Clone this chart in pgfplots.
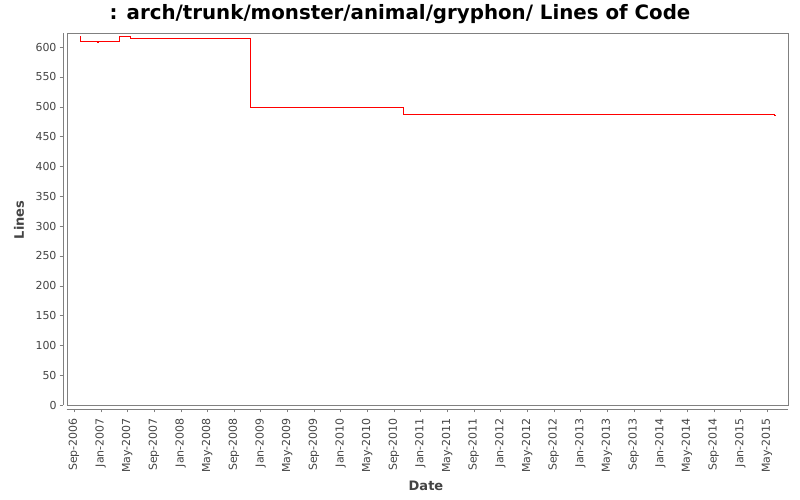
\documentclass[border=0pt]{standalone}
\usepackage{pgfplots}
\pgfplotsset{compat=1.18}
\usepackage{fontspec}
\setmainfont{DejaVu Sans}
\definecolor{axisgray}{RGB}{128,128,128}
\definecolor{labelgray}{RGB}{68,68,68}
\definecolor{locred}{RGB}{255,0,0}
\begin{document}
\begin{tikzpicture}[x=1pt,y=1pt]
\path[use as bounding box] (0,0) rectangle (800,-500);
\begin{axis}[
    at={(66.7pt,-405pt)}, anchor=south west,
    scale only axis, width=721.3pt, height=371.7pt,
    xmin=-1.096, xmax=107.16, ymin=0, ymax=623,
    axis line style={axisgray},
    tick align=outside, major tick length=3pt,
    xtick pos=bottom, ytick pos=left,
    xtick style={axisgray, yshift=-4.3pt},
    ytick style={axisgray, xshift=-4pt},
    xtick={0,4,...,104},
    xticklabels={Sep-2006,Jan-2007,May-2007,Sep-2007,Jan-2008,May-2008,Sep-2008,Jan-2009,May-2009,Sep-2009,Jan-2010,May-2010,Sep-2010,Jan-2011,May-2011,Sep-2011,Jan-2012,May-2012,Sep-2012,Jan-2013,May-2013,Sep-2013,Jan-2014,May-2014,Sep-2014,Jan-2015,May-2015},
    ytick={0,50,...,600},
    xticklabel style={rotate=90, anchor=east, inner sep=0pt, text=labelgray, font=\fontsize{11}{13}\selectfont},
    yticklabel style={anchor=east, inner sep=0pt, text=labelgray, font=\fontsize{11}{13}\selectfont},
    xticklabel shift=10pt, yticklabel shift=7pt,
    /pgf/number format/assume math mode=true,
    clip=false,
]
\addplot[black, const plot, line width=1pt] coordinates {
    (0.95,617) (0.96,610) (3.55,608) (3.7,610) (6.8,617) (8.45,615)
    (26.46,498) (49.42,487) (105.16,486) (105.17,486)
};
\addplot[locred, const plot, line width=1pt] coordinates {
    (0.95,617) (0.96,610) (3.55,608) (3.7,610) (6.8,617) (8.45,615)
    (26.46,498) (49.42,487) (105.16,486) (105.17,486)
};
\end{axis}
\draw[axisgray] (62.7,-33.3) -- (62.7,-405);
\draw[axisgray] (66.7,-409.3) -- (788,-409.3);
\node[font=\fontsize{19.8}{23}\selectfont\bfseries] at (400,-14) {: arch/trunk/monster/animal/gryphon/ Lines of Code};
\node[rotate=90, text=labelgray, font=\fontsize{13}{15}\selectfont\bfseries] at (19,-220) {Lines};
\node[text=labelgray, font=\fontsize{13}{15}\selectfont\bfseries] at (426,-486) {Date};
\end{tikzpicture}
\end{document}
